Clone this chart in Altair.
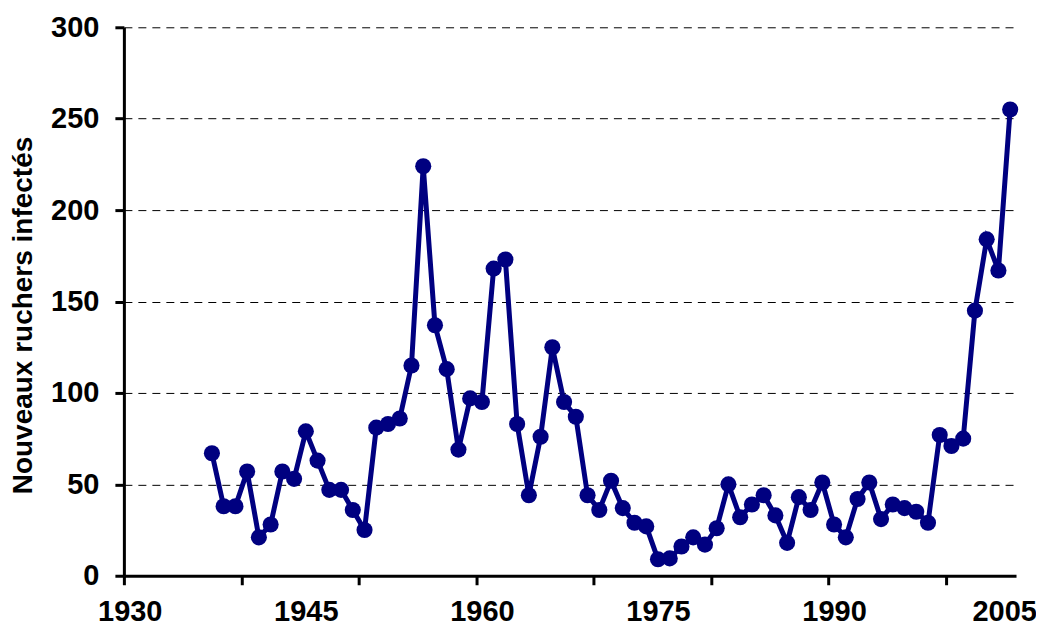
import altair as alt
import pandas as pd

years = list(range(1937, 2006))
values = [67, 38, 38, 57, 21, 28, 57, 53, 79, 63,
          47, 47, 36, 25, 81, 83, 86, 115, 224, 137,
          113, 69, 97, 95, 168, 173, 83, 44, 76, 125,
          95, 87, 44, 36, 52, 37, 29, 27, 9, 9.5,
          16, 21, 17, 26, 50, 32, 39, 44, 33, 18,
          43, 36, 51, 28, 21, 42, 51, 31, 39, 37,
          35, 29, 77, 71, 75, 145, 184, 167, 255]

tick_years = [1930, 1940, 1950, 1960, 1970, 1980, 1990, 2000]
label_years = [1930, 1945, 1960, 1975, 1990, 2005]
y_ticks = [0, 50, 100, 150, 200, 250, 300]

df = pd.DataFrame({"year": years, "value": values})

FONT = "Liberation Sans"
NAVY = "#000080"

x_values = tick_years + [y + 0.5 for y in label_years]

x_enc = alt.X(
    "xpos:Q",
    scale=alt.Scale(domain=[1930, 2006], nice=False, zero=False),
    axis=alt.Axis(
        values=x_values,
        labelExpr="datum.value % 1 == 0 ? '' : '' + floor(datum.value)",
        tickOpacity={"condition": {"test": "datum.value % 1 == 0", "value": 1}, "value": 0},
        labelOffset={"condition": {"test": "datum.value > 2004", "value": -6}, "value": 0},
        labelOverlap=False,
        labelFlush=False,
        grid=False,
        title=None,
        tickSize=9,
        labelPadding=13,
    ),
)
y_enc = alt.Y(
    "value:Q",
    scale=alt.Scale(domain=[0, 300], nice=False),
    axis=alt.Axis(
        values=y_ticks,
        title="Nouveaux ruchers infectés",
        grid=True,
        gridDash=[8, 6],
        gridColor="#000000",
        gridWidth=1,
        tickSize=9,
        labelPadding=16,
        titlePadding=13,
        titleY=288,
    ),
)

base = alt.Chart(df).transform_calculate(xpos="datum.year + 0.5")

line = base.mark_line(color=NAVY, strokeWidth=5).encode(x=x_enc, y=y_enc)
pts = base.mark_circle(color=NAVY, size=260, opacity=1).encode(x=x_enc, y=y_enc)

chart = (
    alt.layer(line, pts)
    .properties(
        width=893,
        height=549,
        autosize=alt.AutoSizeParams(type="none"),
        padding={"left": 116, "top": 19, "right": 20, "bottom": 53},
    )
    .configure_view(stroke=None)
    .configure_axis(
        labelFont=FONT,
        labelFontSize=29,
        labelFontWeight="bold",
        labelColor="#000000",
        titleFont=FONT,
        titleFontSize=28,
        titleFontWeight="bold",
        titleColor="#000000",
        domainColor="#000000",
        domainWidth=3,
        tickColor="#000000",
        tickWidth=3,
    )
)

chart.save("out.html", embed_options={"renderer": "svg", "actions": False})
